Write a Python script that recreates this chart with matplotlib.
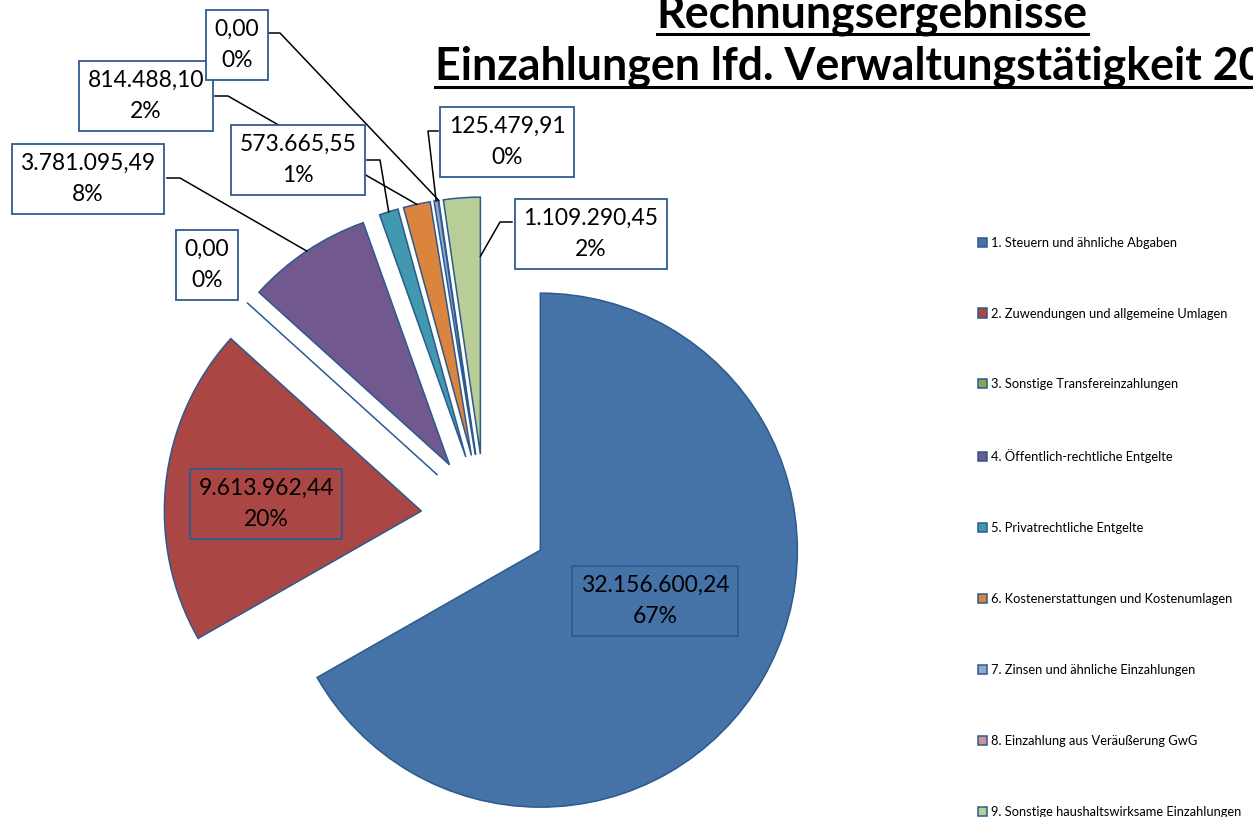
import matplotlib
matplotlib.use("Agg")
import matplotlib.pyplot as plt
import numpy as np
from matplotlib.lines import Line2D

# data
names = ["1. Steuern und ähnliche Abgaben",
         "2. Zuwendungen und allgemeine Umlagen",
         "3. Sonstige Transfereinzahlungen",
         "4. Öffentlich-rechtliche Entgelte",
         "5. Privatrechtliche Entgelte",
         "6. Kostenerstattungen und Kostenumlagen",
         "7. Zinsen und ähnliche Einzahlungen",
         "8. Einzahlung aus Veräußerung GwG",
         "9. Sonstige haushaltswirksame Einzahlungen"]
values = [32156600.24, 9613962.44, 0.0, 3781095.49, 573665.55,
          814488.10, 125479.91, 0.0, 1109290.45]
colors = ["#4572A7", "#AA4643", "#89A54E", "#71588F", "#4198AF",
          "#DB843D", "#93A9CF", "#D19392", "#B9CD96"]

title1 = "Rechnungsergebnisse"
title2 = "Einzahlungen lfd. Verwaltungstätigkeit 20"

# layout (pixels)
W, H = 1253, 817
CX, CY, R = 485, 518, 257
EXPLODE = 64 / R
FONT = "Lato"

# label box centres
label_pos = [(655, 601), (266, 504), (207, 265), (88, 179), (298, 160),
             (146, 96), (507, 142), (237, 45), (591, 234)]
# leader lines: box edge, elbow, position in wedge (angle frac, radius frac)
leaders = {3: ((167, 178), (180, 178), 0.5, 1.0),
           4: ((367, 160), (380, 160), 0.5, 1.0),
           5: ((215, 96), (228, 96), 0.5, 1.0),
           6: ((438, 131), (428, 131), 0.5, 1.0),
           7: ((269, 33), (280, 33), 0.5, 1.0),
           8: ((512, 222), (500, 222), 0.0, 0.77)}


def px(x, y):
    return (x - CX) / R, (CY - y) / R


def de(v):
    s = f"{v:,.2f}"
    return s.replace(",", "X").replace(".", ",").replace("X", ".")


fig = plt.figure(figsize=(W / 100, H / 100), dpi=100)
ax = fig.add_axes([0, 0, 1, 1])
wedges, _ = ax.pie(values, colors=colors, startangle=90, counterclock=False,
                   explode=[EXPLODE] * len(values),
                   wedgeprops=dict(edgecolor="#2C5A8E", linewidth=1.1))
ax.set_xlim(px(0, 0)[0], px(W, 0)[0])
ax.set_ylim(px(0, H)[1], px(0, 0)[1])
ax.axis("off")

total = sum(values)
for i, w in enumerate(wedges):
    txt = f"{de(values[i])}\n{values[i] / total * 100:.0f}%"
    fc = "none" if i < 2 else "white"
    ax.text(*px(*label_pos[i]), txt, ha="center", va="center", fontsize=16.5,
            family=FONT, linespacing=1.6, zorder=5,
            bbox=dict(boxstyle="square,pad=0.38", fc=fc, ec="#2F5A8E", lw=1.3))

for i, (p0, p1, frac, rf) in leaders.items():
    w = wedges[i]
    ang = np.radians(w.theta1 + frac * (w.theta2 - w.theta1))
    cx, cy = w.center
    end = (cx + rf * w.r * np.cos(ang), cy + rf * w.r * np.sin(ang))
    a, b = px(*p0), px(*p1)
    ax.plot([a[0], b[0], end[0]], [a[1], b[1], end[1]], color="black", lw=1.1, zorder=4)

fig.legend(wedges, names, loc="upper left", bbox_to_anchor=(966 / W, 1 - 225 / H),
           frameon=False, prop=dict(family=FONT, size=9.3), labelspacing=4.56,
           handlelength=0.7, handleheight=0.7, handletextpad=0.3)

# title, underlined, running off the figure like the original
renderer = fig.canvas.get_renderer()
t1 = fig.text(872 / W, 1 - 27 / H, title1, ha="center", va="baseline",
              fontsize=28, fontweight="bold", family=FONT)
scale = 431 / t1.get_window_extent(renderer).width
t1.set_fontsize(28 * scale)
t2 = fig.text(435 / W, 1 - 80 / H, title2, ha="left", va="baseline",
              fontsize=28 * scale, fontweight="bold", family=FONT)
for t, base in ((t1, 27), (t2, 80)):
    bb = t.get_window_extent(renderer)
    y = (H - base - 7) / H
    fig.add_artist(Line2D([bb.x0 / W, bb.x1 / W], [y, y], color="black", lw=2.2))

fig.savefig("out.png", dpi=100)
